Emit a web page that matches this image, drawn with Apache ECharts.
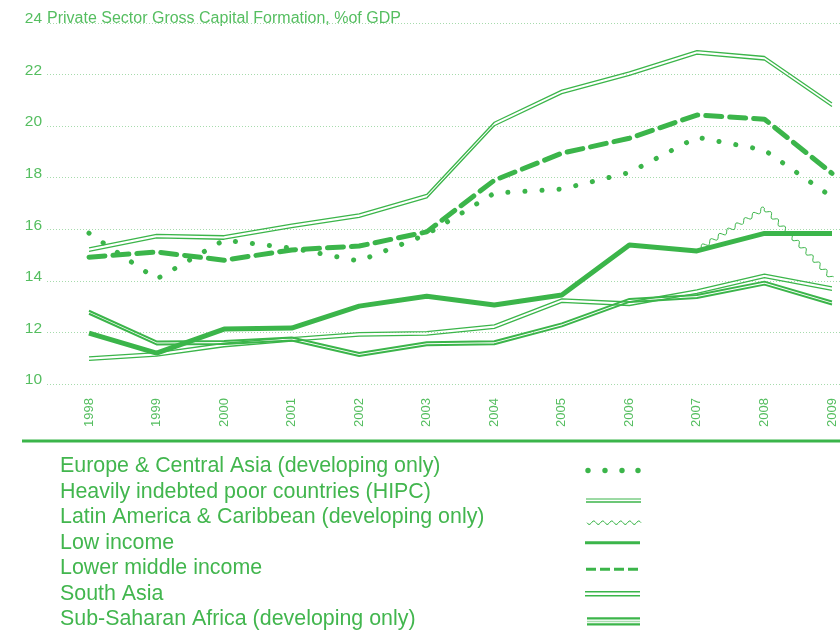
<!DOCTYPE html>
<html>
<head>
<meta charset="utf-8">
<script src="https://cdn.jsdelivr.net/npm/echarts@6/dist/echarts.min.js"></script>
<style>html,body{margin:0;background:#fff}#chart{width:840px;height:630px}</style>
</head>
<body>
<div id="chart"></div>
<script>
// values, % of GDP
const years = ['1998', '1999', '2000', '2001', '2002', '2003', '2004', '2005', '2006', '2007', '2008', '2009']
const ecaValues = [15.85, 14.07, 15.58, 15.27, 14.77, 15.8, 17.4, 17.56, 18.2, 19.57, 19.07, 17.25]
const hipcValues = [11.05, 11.22, 11.58, 11.8, 11.99, 12.03, 12.29, 13.3, 13.18, 13.65, 14.26, 13.77]
const lacValues = [null, null, null, null, null, null, null, null, null, 15.2, 16.82, 14.1]
const lowValues = [11.97, 11.2, 12.13, 12.17, 13.02, 13.4, 13.06, 13.45, 15.39, 15.16, 15.84, 15.84]
const lmiValues = [14.92, 15.12, 14.8, 15.2, 15.35, 15.9, 17.9, 18.95, 19.53, 20.43, 20.27, 18.17]
const southAsiaValues = [15.28, 15.8, 15.75, 16.2, 16.6, 17.35, 20.15, 21.4, 22.1, 22.93, 22.7, 20.9]
const ssaValues = [12.84, 11.65, 11.67, 11.8, 11.2, 11.62, 11.66, 12.35, 13.3, 13.45, 13.97, 13.2]
const yTicks = [10, 24, 2]
const legendNames = [
  'Europe & Central Asia (developing only)',
  'Heavily indebted poor countries (HIPC)',
  'Latin America & Caribbean (developing only)',
  'Low income',
  'Lower middle income',
  'South Asia',
  'Sub-Saharan Africa (developing only)'
]

const green = '#3bb54a'
const textGreen = '#42b64e'
const labelGreen = '#55be60'
const gridGreen = '#a6dbac'
const font = '"Liberation Sans", Arial, sans-serif'

const chart = echarts.init(document.getElementById('chart'))

// wavy polyline between two pixel points
function wave(a, b, amp, len) {
  const dx = b[0] - a[0], dy = b[1] - a[1]
  const d = Math.sqrt(dx * dx + dy * dy)
  const nx = -dy / d, ny = dx / d
  const pts = []
  const steps = Math.max(2, Math.round(d))
  for (let k = 0; k <= steps; k++) {
    const t = k / steps
    const s = Math.sin(t * d / len * Math.PI * 2) * amp
    pts.push([a[0] + dx * t + nx * s, a[1] + dy * t + ny * s])
  }
  return pts
}

function renderWave(params, api) {
  const i = api.value(0)
  const next = lacValues[i + 1]
  if (next == null) return
  const a = api.coord([i, api.value(1)])
  const b = api.coord([i + 1, next])
  return { type: 'polyline', shape: { points: wave(a, b, 2.2, 10) }, style: { stroke: green, lineWidth: 1, fill: null } }
}

function line(name, data, style, z) {
  return {
    name, type: 'line', data, xAxisIndex: 0, yAxisIndex: 0,
    showSymbol: false, symbol: 'none', z: z || 2,
    lineStyle: Object.assign({ color: green }, style)
  }
}

const legendY = [466, 492, 517, 543, 568, 594, 619]
const graphic = [
  { type: 'text', x: 47, y: 19, style: { text: 'Private Sector Gross Capital Formation, %of GDP', font: '16px ' + font, fill: labelGreen, verticalAlign: 'middle' } },
  { type: 'line', shape: { x1: 22, y1: 441, x2: 840, y2: 441 }, style: { stroke: green, lineWidth: 3 } }
]
legendNames.forEach((n, i) => {
  graphic.push({ type: 'text', x: 60, y: legendY[i], style: { text: n, font: '21.4px ' + font, fill: textGreen, verticalAlign: 'middle' } })
})
// legend glyphs
;[588, 605, 622, 638].forEach(x => graphic.push({ type: 'circle', shape: { cx: x, cy: 470.5, r: 2.7 }, style: { fill: green } }))
graphic.push({ type: 'line', shape: { x1: 586, y1: 499, x2: 641, y2: 499 }, style: { stroke: green, lineWidth: 1 } })
graphic.push({ type: 'line', shape: { x1: 586, y1: 502, x2: 641, y2: 502 }, style: { stroke: green, lineWidth: 1.5 } })
graphic.push({ type: 'polyline', shape: { points: wave([587, 522.7], [641, 522.7], 1.8, 9) }, style: { stroke: green, lineWidth: 1, fill: null } })
graphic.push({ type: 'line', shape: { x1: 585, y1: 542.7, x2: 640, y2: 542.7 }, style: { stroke: green, lineWidth: 3 } })
graphic.push({ type: 'line', shape: { x1: 586, y1: 569.3, x2: 640, y2: 569.3 }, style: { stroke: green, lineWidth: 3, lineDash: [10, 4] } })
graphic.push({ type: 'line', shape: { x1: 585, y1: 591.7, x2: 640, y2: 591.7 }, style: { stroke: green, lineWidth: 1.6 } })
graphic.push({ type: 'line', shape: { x1: 585, y1: 595.7, x2: 640, y2: 595.7 }, style: { stroke: green, lineWidth: 1.6 } })
graphic.push({ type: 'line', shape: { x1: 587, y1: 618.3, x2: 640, y2: 618.3 }, style: { stroke: green, lineWidth: 2.2 } })
graphic.push({ type: 'line', shape: { x1: 587, y1: 621.4, x2: 640, y2: 621.4 }, style: { stroke: '#a9ddae', lineWidth: 1.5 } })
graphic.push({ type: 'line', shape: { x1: 587, y1: 624.4, x2: 640, y2: 624.4 }, style: { stroke: green, lineWidth: 2.2 } })

const option = {
  backgroundColor: '#fff',
  animation: false,
  grid: [
    { left: 89, right: 8, top: 23, bottom: 246 },
    { left: 47, right: 0, top: 23, bottom: 246 }
  ],
  xAxis: [
    {
      type: 'category', data: years, boundaryGap: false, gridIndex: 0,
      axisLine: { show: false }, axisTick: { show: false }, splitLine: { show: false },
      axisLabel: { rotate: 90, margin: 14, fontSize: 13, color: labelGreen, fontFamily: font }
    },
    { type: 'value', gridIndex: 1, show: false, min: 0, max: 1 }
  ],
  yAxis: [
    { type: 'value', gridIndex: 0, min: yTicks[0], max: yTicks[1], interval: yTicks[2], show: false },
    {
      type: 'value', gridIndex: 1, min: yTicks[0], max: yTicks[1], interval: yTicks[2],
      axisLine: { show: false }, axisTick: { show: false },
      axisLabel: { margin: 5, fontSize: 15.5, color: labelGreen, fontFamily: font, verticalAlign: 'bottom', lineHeight: 8 },
      splitLine: { lineStyle: { color: gridGreen, type: [1, 2], width: 1 } }
    }
  ],
  graphic,
  series: [
    line(legendNames[6], ssaValues, { width: 2, shadowColor: green, shadowOffsetY: 3, shadowBlur: 0 }),
    line(legendNames[1], hipcValues, { width: 1.3, shadowColor: green, shadowOffsetY: 3.5, shadowBlur: 0 }),
    line(legendNames[5], southAsiaValues, { width: 1.3, shadowColor: green, shadowOffsetY: 3.5, shadowBlur: 0 }),
    line(legendNames[3], lowValues, { width: 5, join: 'round' }, 3),
    line(legendNames[4], lmiValues, { width: 5, type: [16, 8], cap: 'round' }, 3),
    line(legendNames[0], ecaValues, { width: 5, type: [0.1, 17], cap: 'round' }, 3),
    {
      name: legendNames[2], type: 'custom', xAxisIndex: 0, yAxisIndex: 0, z: 4,
      data: lacValues.map((v, i) => v == null ? null : [i, v]).filter(Boolean),
      renderItem: renderWave
    }
  ]
}
chart.setOption(option)
</script>
</body>
</html>
